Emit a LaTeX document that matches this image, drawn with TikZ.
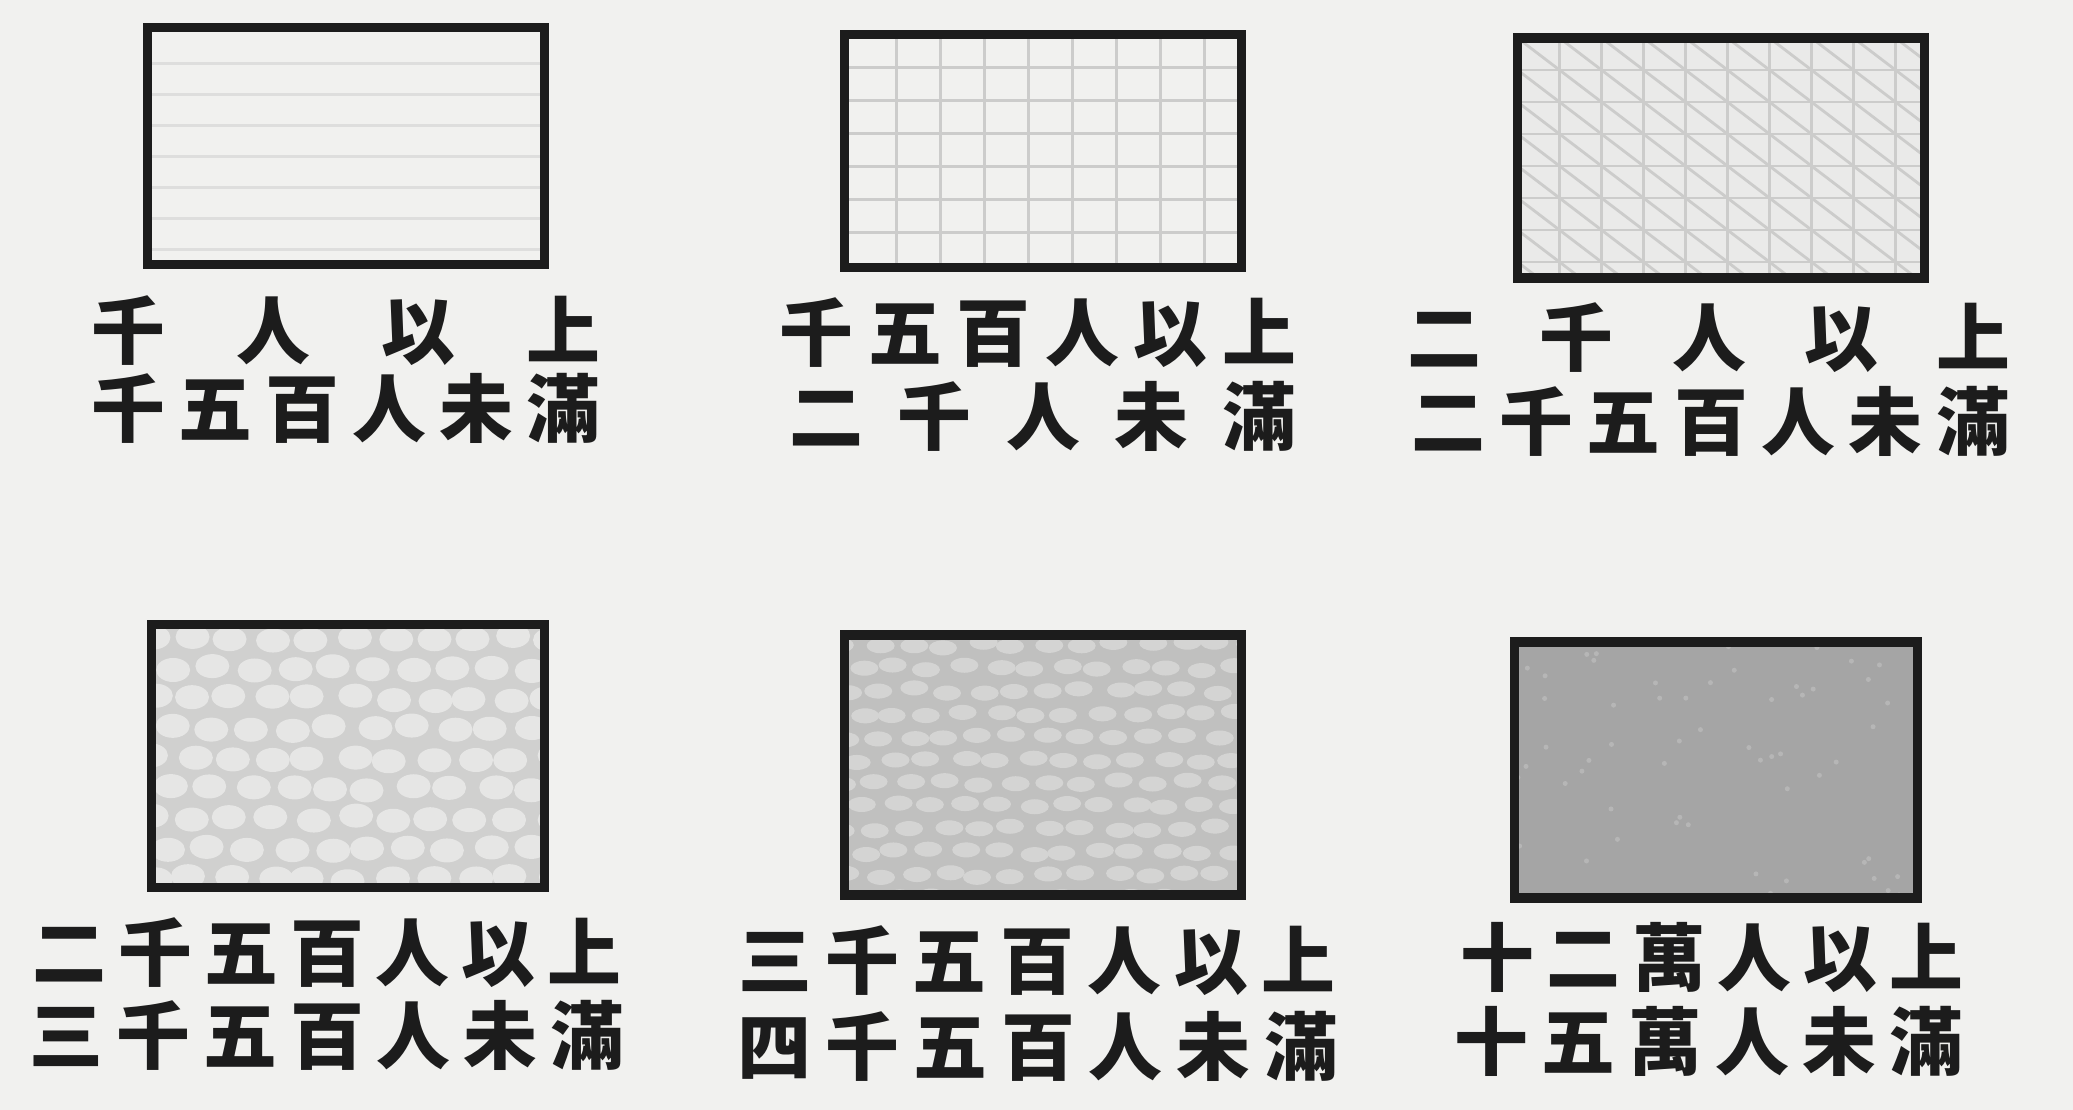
\documentclass[tikz,border=0pt]{standalone}
\usepackage{fontspec}
\usepackage{xcolor}
\usepackage{tikz}
\usetikzlibrary{calc}
\newfontfamily\jpfont{Noto Sans CJK JP}
\definecolor{ppPaper}{RGB}{241, 241, 239}
\definecolor{ppInk}{RGB}{28, 28, 28}
\definecolor{ppLine}{RGB}{222, 222, 221}
\definecolor{ppGrid}{RGB}{204, 204, 203}
\definecolor{ppMesh}{RGB}{234, 234, 233}
\definecolor{ppMeshLine}{RGB}{204, 204, 203}
\definecolor{ppCobble}{RGB}{208, 208, 207}
\definecolor{ppStone}{RGB}{230, 230, 229}
\definecolor{ppDense}{RGB}{192, 192, 191}
\definecolor{ppPebble}{RGB}{212, 212, 211}
\definecolor{ppSolid}{RGB}{165, 165, 165}
\definecolor{ppSpeck}{RGB}{182, 182, 182}
\newcommand{\spaced}[2]{\makebox[#1]{#2}}
\tikzset{
    base/.style={
        font=\jpfont\bfseries\fontsize{21}{21}\selectfont,
        text=ppInk,
        inner sep=0pt
    },
    legendbox/.style={
        draw=ppInk,
        line width=2.7pt,
        inner sep=0pt
    },
    hatchline/.style={
        line width=0.8pt
    },
    lined/.style={
        fill=ppPaper,
        path picture={
            \foreach \k in {1,...,7}
                \draw[hatchline, ppLine] ($(path picture bounding box.north west)+(0,{\k*31+5})$) -- ++(450,0);
        }
    },
    gridded/.style={
        fill=ppPaper,
        path picture={
            \foreach \k in {1,...,9}
                \draw[hatchline, ppGrid] ($(path picture bounding box.north west)+({\k*44+8},0)$) -- ++(0,300);
            \foreach \k in {1,...,7}
                \draw[hatchline, ppGrid] ($(path picture bounding box.north west)+(0,{\k*33})$) -- ++(450,0);
        }
    },
    meshed/.style={
        fill=ppMesh,
        path picture={
            \foreach \k in {1,...,10}
                \draw[hatchline, ppMeshLine] ($(path picture bounding box.north west)+({\k*42},0)$) -- ++(0,300);
            \foreach \k in {1,...,8}
                \draw[hatchline, ppMeshLine] ($(path picture bounding box.north west)+(0,{\k*32})$) -- ++(450,0);
            \foreach \k in {-9,...,10}
                \draw[hatchline, ppMeshLine] ($(path picture bounding box.north west)+({\k*42},0)$) -- ++(420,320);
        }
    },
    cobbled/.style={
        fill=ppCobble,
        path picture={
            \foreach \r in {0,...,9}
                \foreach \c in {0,...,10}
                    \fill[ppStone] ($(path picture bounding box.north west)+({\c*40+mod(\r,2)*20+5*rand},{\r*30+14+3*rand})$)
                        ellipse [x radius=0.17cm, y radius=0.12cm];
        }
    },
    pebbled/.style={
        fill=ppDense,
        path picture={
            \foreach \r in {0,...,11}
                \foreach \c in {0,...,12}
                    \fill[ppPebble] ($(path picture bounding box.north west)+({\c*34+mod(\r,2)*17+5*rand},{\r*23+10+3*rand})$)
                        ellipse [x radius=0.14cm, y radius=0.075cm];
        }
    },
    speckled/.style={
        fill=ppSolid,
        path picture={
            \foreach \k in {1,...,60}
                \fill[ppSpeck] ($(path picture bounding box.north west)+({400*rnd},{260*rnd})$) circle [radius=0.025cm];
        }
    }
}

\begin{document}
\begin{tikzpicture}[x=0.01cm, y=-0.01cm]
  \pgfmathsetseed{11}
  \useasboundingbox[fill=ppPaper] (0,0) rectangle (2073,1110);

  % upper row
  \node[legendbox, lined, minimum width=3.97cm, minimum height=2.37cm] (b1) at (346,146) {};
  \node[legendbox, gridded, minimum width=3.97cm, minimum height=2.33cm] (b2) at (1043,151) {};
  \node[legendbox, meshed, minimum width=4.07cm, minimum height=2.40cm] (b3) at (1721,158) {};

  \node[base] (l1a) at (346,331) {\spaced{5.09cm}{千\hfill 人\hfill 以\hfill 上}};
  \node[base] (l1b) at (346,408) {\spaced{5.09cm}{千\hfill 五\hfill 百\hfill 人\hfill 未\hfill 滿}};
  \node[base] (l2a) at (1038,333) {\spaced{5.16cm}{千\hfill 五\hfill 百\hfill 人\hfill 以\hfill 上}};
  \node[base] (l2b) at (1043,416) {\spaced{5.06cm}{二\hfill 千\hfill 人\hfill 未\hfill 滿}};
  \node[base] (l3a) at (1709,338) {\spaced{6.02cm}{二\hfill 千\hfill 人\hfill 以\hfill 上}};
  \node[base] (l3b) at (1711,421) {\spaced{5.98cm}{二\hfill 千\hfill 五\hfill 百\hfill 人\hfill 未\hfill 滿}};

  % lower row
  \node[legendbox, cobbled, minimum width=3.93cm, minimum height=2.63cm] (b4) at (348,756) {};
  \node[legendbox, pebbled, minimum width=3.97cm, minimum height=2.60cm] (b5) at (1043,765) {};
  \node[legendbox, speckled, minimum width=4.03cm, minimum height=2.56cm] (b6) at (1716,770) {};

  \node[base] (l4a) at (327,953) {\spaced{5.88cm}{二\hfill 千\hfill 五\hfill 百\hfill 人\hfill 以\hfill 上}};
  \node[base] (l4b) at (327,1035) {\spaced{5.95cm}{三\hfill 千\hfill 五\hfill 百\hfill 人\hfill 未\hfill 滿}};
  \node[base] (l5a) at (1037,961) {\spaced{5.97cm}{三\hfill 千\hfill 五\hfill 百\hfill 人\hfill 以\hfill 上}};
  \node[base] (l5b) at (1038,1046) {\spaced{6.00cm}{四\hfill 千\hfill 五\hfill 百\hfill 人\hfill 未\hfill 滿}};
  \node[base] (l6a) at (1712,957) {\spaced{5.02cm}{十\hfill 二\hfill 萬\hfill 人\hfill 以\hfill 上}};
  \node[base] (l6b) at (1709,1041) {\spaced{5.09cm}{十\hfill 五\hfill 萬\hfill 人\hfill 未\hfill 滿}};
\end{tikzpicture}
\end{document}
